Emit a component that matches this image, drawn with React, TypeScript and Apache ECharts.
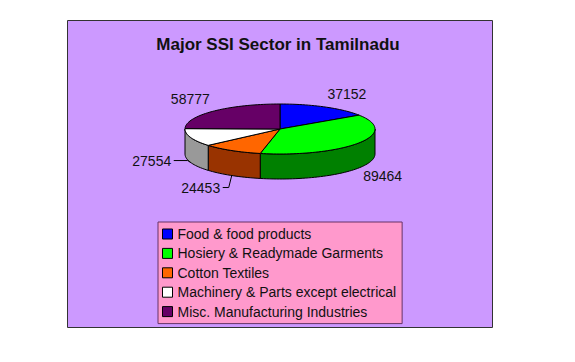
import React, { useEffect, useRef } from 'react';
import * as echarts from 'echarts';

const titleText = 'Major SSI Sector in Tamilnadu';
const categories = [
  'Food & food products',
  'Hosiery & Readymade Garments',
  'Cotton Textiles',
  'Machinery & Parts except electrical',
  'Misc. Manufacturing Industries',
];
const values = [37152, 89464, 24453, 27554, 58777];

const topColors = ['#0000FF', '#00FF00', '#FF6600', '#FFFFFF', '#660066'];
const sideColors = ['#000099', '#008000', '#993300', '#999999', '#330033'];
const labelOffsets = [[22, -13], [24, 8], [-31, 12], [-39, -2], [-23, -12]];
const hasLeader = [false, false, true, true, false];

const FONT = '"Liberation Sans", Arial, sans-serif';
const CX = 280, CY = 129, RX = 95, RY = 25, DEPTH = 25;

function pt(deg: number, dy = 0): number[] {
  const t = (deg * Math.PI) / 180;
  return [CX + RX * Math.sin(t), CY - RY * Math.cos(t) + dy];
}
function arc(a0: number, a1: number, dy = 0): number[][] {
  const n = Math.max(2, Math.ceil((a1 - a0) / 2));
  const out: number[][] = [];
  for (let k = 0; k <= n; k++) out.push(pt(a0 + ((a1 - a0) * k) / n, dy));
  return out;
}

export default function App() {
  const ref = useRef<HTMLDivElement>(null);
  useEffect(() => {
    if (!ref.current) return;
    const chart = echarts.init(ref.current, undefined, { renderer: 'svg' });
    const total = values.reduce((a, b) => a + b, 0);
    const starts: number[] = [];
    let acc = 0;
    values.forEach((v) => { starts.push((acc / total) * 360); acc += v; });

    const renderSlice = (params: any, api: any) => {
      const i = params.seriesIndex;
      const v = api.value(0);
      const a0 = starts[i];
      const a1 = a0 + (v / total) * 360;
      const children: any[] = [];
      const lo = Math.max(a0, 90), hi = Math.min(a1, 270);
      if (hi > lo) {
        const topArc = arc(lo, hi, 0);
        const botArc = arc(lo, hi, DEPTH).reverse();
        children.push({
          type: 'polygon',
          shape: { points: [...topArc, ...botArc] },
          style: { fill: sideColors[i], stroke: '#000', lineWidth: 1 },
        });
      }
      children.push({
        type: 'polygon',
        shape: { points: [[CX, CY], ...arc(a0, a1, 0)] },
        style: { fill: topColors[i], stroke: '#000', lineWidth: 1 },
      });
      const mid = (a0 + a1) / 2;
      const front = mid > 90 && mid < 270;
      const anchor = pt(mid, front ? DEPTH : 0);
      const lx = anchor[0] + labelOffsets[i][0];
      const ly = anchor[1] + labelOffsets[i][1];
      children.push({
        type: 'text',
        x: lx,
        y: ly,
        style: {
          text: String(v),
          font: `14px ${FONT}`,
          fill: '#111',
          align: 'center',
          verticalAlign: 'middle',
          textAlign: 'center',
          textVerticalAlign: 'middle',
        },
      });
      if (hasLeader[i]) {
        children.push({
          type: 'polyline',
          shape: { points: [[lx + 22, ly], [anchor[0] - 3, ly], anchor] },
          style: { stroke: '#000', lineWidth: 1, fill: 'none' },
        });
      }
      return { type: 'group', children };
    };

    chart.setOption({
      animation: false,
      backgroundColor: '#FFFFFF',
      graphic: [
        {
          type: 'rect',
          z: -10,
          shape: { x: 67.5, y: 20.5, width: 425, height: 307 },
          style: { fill: '#CC99FF', stroke: '#333333', lineWidth: 1 },
        },
        {
          type: 'text',
          x: 278,
          y: 44,
          style: {
            text: titleText,
            font: `bold 17px ${FONT}`,
            fill: '#111',
            align: 'center',
            verticalAlign: 'middle',
            textAlign: 'center',
            textVerticalAlign: 'middle',
          },
        },
      ],
      legend: {
        orient: 'vertical',
        left: 158,
        top: 222,
        padding: [5, 6, 5, 4],
        itemGap: 5.4,
        itemWidth: 10,
        itemHeight: 10,
        icon: 'rect',
        selectedMode: false,
        backgroundColor: '#FF99CC',
        borderColor: '#663366',
        borderWidth: 1,
        itemStyle: { borderColor: '#000', borderWidth: 1 },
        textStyle: { fontFamily: FONT, fontSize: 14, color: '#111' },
        data: categories,
      },
      series: categories.map((name, i) => ({
        type: 'custom',
        name,
        coordinateSystem: 'none',
        itemStyle: { color: topColors[i], borderColor: '#000', borderWidth: 1 },
        renderItem: renderSlice,
        data: [[values[i]]],
      })),
    });
    return () => chart.dispose();
  }, []);
  return (
    <div
      ref={ref}
      style={{ position: 'fixed', left: 0, top: 0, width: 575, height: 362 }}
    />
  );
}
